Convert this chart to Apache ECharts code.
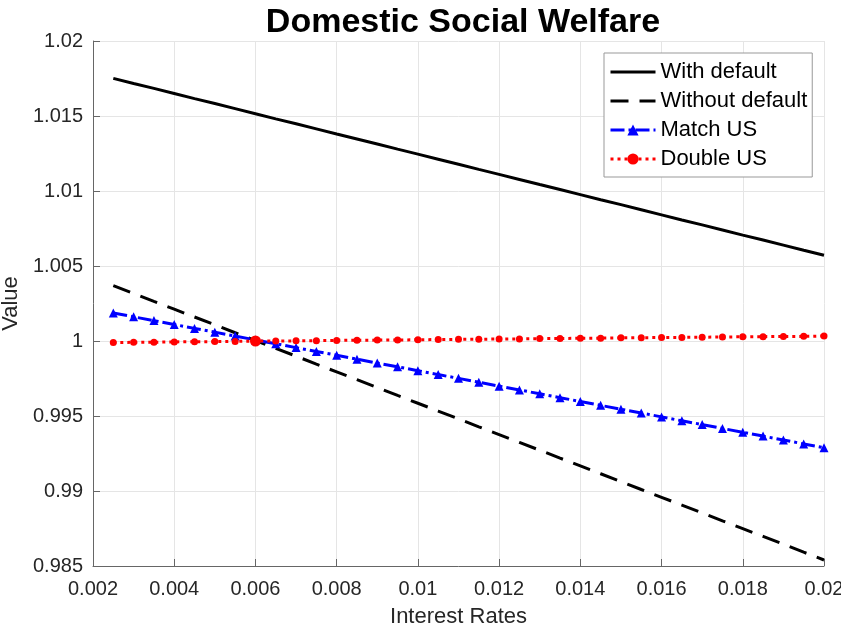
<!DOCTYPE html>
<html>
<head>
<meta charset="utf-8">
<script src="https://cdn.jsdelivr.net/npm/echarts@6/dist/echarts.min.js"></script>
<style>
  html, body { margin: 0; padding: 0; background: #fff; }
  #chart { width: 841px; height: 635px; }
</style>
</head>
<body>
<div id="chart"></div>
<script>
// Interest rates (x values)
var rates = [0.0025, 0.0030, 0.0035, 0.0040, 0.0045, 0.0050, 0.0055, 0.0060, 0.0065, 0.0070,
             0.0075, 0.0080, 0.0085, 0.0090, 0.0095, 0.0100, 0.0105, 0.0110, 0.0115, 0.0120,
             0.0125, 0.0130, 0.0135, 0.0140, 0.0145, 0.0150, 0.0155, 0.0160, 0.0165, 0.0170,
             0.0175, 0.0180, 0.0185, 0.0190, 0.0195, 0.0200];

var withDefault = [1.01751, 1.01717, 1.01684, 1.01650, 1.01616, 1.01583, 1.01549, 1.01515, 1.01481, 1.01448,
                   1.01414, 1.01380, 1.01347, 1.01313, 1.01279, 1.01246, 1.01212, 1.01178, 1.01144, 1.01111,
                   1.01077, 1.01043, 1.01010, 1.00976, 1.00942, 1.00909, 1.00875, 1.00841, 1.00807, 1.00774,
                   1.00740, 1.00706, 1.00673, 1.00639, 1.00605, 1.00572];

var withoutDefault = [1.00369, 1.00317, 1.00264, 1.00212, 1.00160, 1.00108, 1.00055, 1.00003, 0.99951, 0.99899,
                      0.99846, 0.99794, 0.99742, 0.99690, 0.99637, 0.99585, 0.99533, 0.99481, 0.99428, 0.99376,
                      0.99324, 0.99272, 0.99219, 0.99167, 0.99115, 0.99063, 0.99010, 0.98958, 0.98906, 0.98854,
                      0.98801, 0.98749, 0.98697, 0.98645, 0.98592, 0.98540];

var matchUS = [1.00187, 1.00161, 1.00136, 1.00110, 1.00084, 1.00059, 1.00033, 1.00007, 0.99982, 0.99956,
               0.99930, 0.99905, 0.99879, 0.99853, 0.99828, 0.99802, 0.99776, 0.99751, 0.99725, 0.99699,
               0.99674, 0.99648, 0.99622, 0.99597, 0.99571, 0.99545, 0.99520, 0.99494, 0.99468, 0.99443,
               0.99417, 0.99391, 0.99366, 0.99340, 0.99314, 0.99289];

var doubleUS = [0.99990, 0.99991, 0.99992, 0.99994, 0.99995, 0.99996, 0.99997, 1.00000, 1.00000, 1.00001,
                1.00002, 1.00004, 1.00005, 1.00006, 1.00007, 1.00008, 1.00010, 1.00011, 1.00012, 1.00013,
                1.00014, 1.00016, 1.00017, 1.00018, 1.00019, 1.00021, 1.00022, 1.00023, 1.00024, 1.00025,
                1.00027, 1.00028, 1.00029, 1.00030, 1.00031, 1.00033];

// The common starting point of the scenarios
var baseRate = 0.0060;

function pairs(ys) {
  return rates.map(function (x, i) { return [x, ys[i]]; });
}

function trimNum(v) {
  return String(parseFloat(v.toFixed(4)));
}

var FONT = 'Liberation Sans, Arial, Helvetica, sans-serif';
var AXIS_TEXT = '#262626';

var chart = echarts.init(document.getElementById('chart'), null, { renderer: 'canvas' });

chart.setOption({
  animation: false,
  backgroundColor: '#ffffff',
  title: {
    text: 'Domestic Social Welfare',
    left: 458, textAlign: 'center',
    top: 1,
    textStyle: { fontFamily: FONT, fontSize: 34, fontWeight: 'bold', color: '#000' }
  },
  grid: { left: 93, right: 17, top: 41, bottom: 69, containLabel: false, outerBoundsMode: 'none' },
  legend: {
    orient: 'vertical',
    left: 604, top: 53,
    padding: [8, 5, 7, 5],
    itemWidth: 45, itemHeight: 14, itemGap: 7,
    backgroundColor: '#ffffff',
    borderColor: '#999999', borderWidth: 1,
    lineStyle: { width: 3 },
    textStyle: { fontFamily: FONT, fontSize: 22, color: '#000', lineHeight: 22 },
    data: [
      { name: 'With default', itemStyle: { opacity: 0 } },
      { name: 'Without default', itemStyle: { opacity: 0 } },
      { name: 'Match US' },
      { name: 'Double US' }
    ]
  },
  xAxis: {
    type: 'value',
    min: 0.002, max: 0.02, interval: 0.002,
    name: 'Interest Rates', nameLocation: 'middle', nameGap: 40,
    nameTextStyle: { fontFamily: FONT, fontSize: 22, color: AXIS_TEXT },
    axisLine: { lineStyle: { color: '#666', width: 1 } },
    axisTick: { inside: true, length: 7, lineStyle: { color: '#666' } },
    axisLabel: { fontFamily: FONT, fontSize: 20, color: AXIS_TEXT, margin: 13, formatter: trimNum, showMaxLabel: true },
    splitLine: { show: true, lineStyle: { color: '#e5e5e5', width: 1 } }
  },
  yAxis: {
    type: 'value',
    min: 0.985, max: 1.02, interval: 0.005,
    name: 'Value', nameLocation: 'middle', nameGap: 58,
    nameTextStyle: { fontFamily: FONT, fontSize: 22, color: AXIS_TEXT },
    axisLine: { show: true, lineStyle: { color: '#666', width: 1 } },
    axisTick: { show: true, inside: true, length: 7, lineStyle: { color: '#666' } },
    axisLabel: { fontFamily: FONT, fontSize: 20, color: AXIS_TEXT, margin: 10, formatter: trimNum },
    splitLine: { show: true, lineStyle: { color: '#e5e5e5', width: 1 } }
  },
  series: [
    {
      name: 'With default', type: 'line', data: pairs(withDefault),
      showSymbol: false, symbol: 'none',
      lineStyle: { color: '#000', width: 3, type: 'solid' },
      itemStyle: { color: '#000' }
    },
    {
      name: 'Without default', type: 'line', data: pairs(withoutDefault),
      showSymbol: false, symbol: 'none',
      lineStyle: { color: '#000', width: 3, type: [18, 11] },
      itemStyle: { color: '#000' }
    },
    {
      name: 'Match US', type: 'line', data: pairs(matchUS),
      symbol: 'triangle', symbolSize: 9,
      lineStyle: { color: '#0000ff', width: 3, type: [14, 4, 3, 4] },
      itemStyle: { color: '#0000ff' }
    },
    {
      name: 'Double US', type: 'line', data: pairs(doubleUS),
      symbol: 'circle',
      symbolSize: function (v) { return Math.abs(v[0] - baseRate) < 1e-9 ? 11 : 7; },
      lineStyle: { color: '#ff0000', width: 3, type: [3, 4] },
      itemStyle: { color: '#ff0000' }
    }
  ]
});
</script>
</body>
</html>
